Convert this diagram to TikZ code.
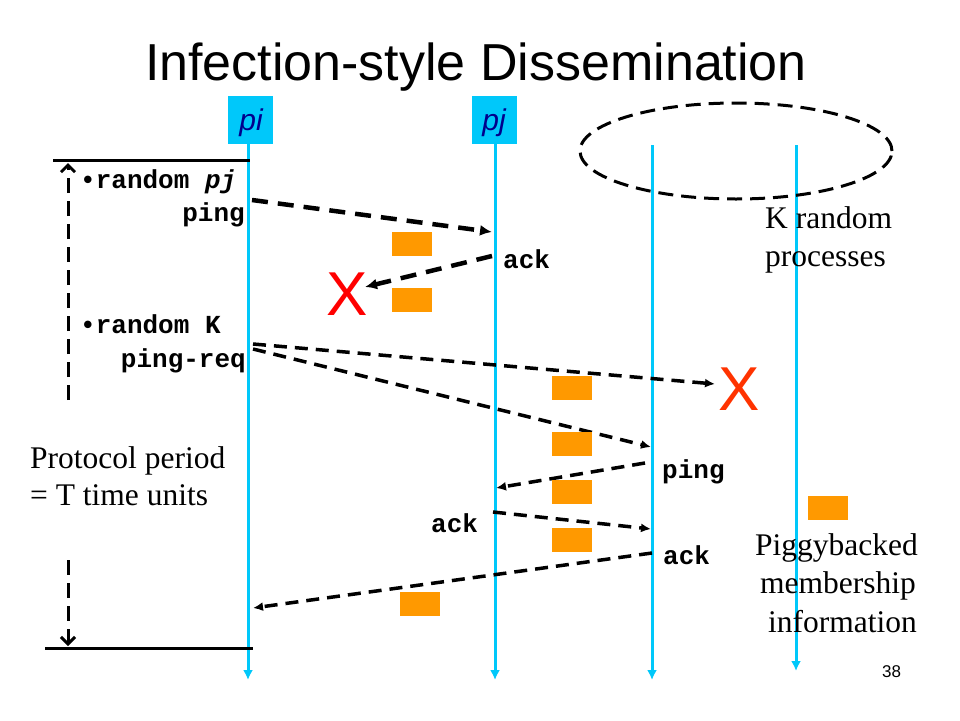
\documentclass[tikz,border=0pt]{standalone}
\usepackage{fontspec}
\setmainfont{Liberation Serif}
\setsansfont{Liberation Sans}
\setmonofont{Liberation Mono}
\usetikzlibrary{arrows.meta}
\definecolor{life}{RGB}{0,200,250}
\definecolor{piggyc}{RGB}{255,153,0}
\definecolor{navyc}{RGB}{0,0,140}
\definecolor{xred}{RGB}{255,0,0}
\definecolor{xorange}{RGB}{255,51,0}
\begin{document}
\begin{tikzpicture}[x=1pt,y=-1pt,
  lifeline/.style={draw=life,line width=3pt,-{Latex[length=10pt,width=10pt]}},
  procbox/.style={fill=life,minimum width=45pt,minimum height=48pt,inner sep=0pt},
  proclabel/.style={inner sep=0pt,anchor=base,font=\fontsize{30}{32}\selectfont\sffamily\itshape,text=navyc},
  msgthick/.style={line width=4.5pt,dash pattern=on 16pt off 10pt,-{Latex[length=12pt,width=11pt]}},
  msgthin/.style={line width=3.5pt,dash pattern=on 13pt off 8pt,-{Latex[length=10pt,width=9pt]}},
  codetxt/.style={inner sep=0pt,font=\fontsize{26}{28}\selectfont\ttfamily\bfseries},
  seriftxt/.style={inner sep=0pt,font=\fontsize{31.5}{36}\selectfont\rmfamily,anchor=base west},
  piggybox/.style={fill=piggyc,minimum width=40pt,minimum height=24pt,inner sep=0pt},
  lostmark/.style={inner sep=0pt,font=\fontsize{62}{64}\selectfont\sffamily,anchor=base},
  periodarrow/.style={line width=3pt,dash pattern=on 15pt off 8pt,-{Straight Barb[length=7pt,width=14pt,line width=3pt]}},
  bar/.style={line width=3pt}
]
\useasboundingbox (0,0) rectangle (960,720);

% title
\node[inner sep=0pt,anchor=base,font=\fontsize{52}{60}\selectfont\sffamily] (title) at (476,80) {Infection-style Dissemination};

% process boxes
\node[procbox] (pi) at (250.5,120) {};
\node[procbox] (pj) at (494,120) {};
\node[proclabel] (pilabel) at (251,130) {pi};
\node[proclabel] (pjlabel) at (494,130) {pj};

% lifelines
\coordinate (pitop) at (248,144);  \coordinate (piend) at (248,680);
\coordinate (pjtop) at (495,144);  \coordinate (pjend) at (495,680);
\coordinate (pktop) at (652,145);  \coordinate (pkend) at (652,680);
\coordinate (pltop) at (796,145);  \coordinate (plend) at (796,671);
\draw[lifeline] (pitop) -- (piend);
\draw[lifeline] (pjtop) -- (pjend);
\draw[lifeline] (pktop) -- (pkend);
\draw[lifeline] (pltop) -- (plend);

% K random processes ellipse
\draw[line width=3pt,dash pattern=on 15pt off 8pt] (736,151) ellipse [x radius=156pt,y radius=48pt];

% protocol period bars and arrows
\coordinate (bartopl) at (53,160);  \coordinate (bartopr) at (250,160);
\coordinate (barbotl) at (45,648);  \coordinate (barbotr) at (253,648);
\draw[bar] (bartopl) -- (bartopr);
\draw[bar] (barbotl) -- (barbotr);
\coordinate (perup0) at (68,400);  \coordinate (perup1) at (68,163);
\coordinate (perdn0) at (68,560);  \coordinate (perdn1) at (68,646);
\draw[periodarrow] (perup0) -- (perup1);
\draw[periodarrow] (perdn0) -- (perdn1);

% messages
\coordinate (m1a) at (252,200); \coordinate (m1b) at (492,232);
\coordinate (m2a) at (492,256); \coordinate (m2b) at (365,287);
\coordinate (m3a) at (253,344); \coordinate (m3b) at (715,384);
\coordinate (m4a) at (253,349); \coordinate (m4b) at (651,447);
\coordinate (m5a) at (645,463); \coordinate (m5b) at (496,488);
\coordinate (m6a) at (493,512); \coordinate (m6b) at (651,529);
\coordinate (m7a) at (652,553); \coordinate (m7b) at (253,608);
\draw[msgthick] (m1a) -- (m1b);
\draw[msgthick] (m2a) -- (m2b);
\draw[msgthin] (m3a) -- (m3b);
\draw[msgthin] (m4a) -- (m4b);
\draw[msgthin] (m5a) -- (m5b);
\draw[msgthin] (m6a) -- (m6b);
\draw[msgthin] (m7a) -- (m7b);

% piggybacked info
\node[piggybox] (g1) at (412,244) {};
\node[piggybox] (g2) at (412,300) {};
\node[piggybox] (g3) at (572,388) {};
\node[piggybox] (g4) at (572,444) {};
\node[piggybox] (g5) at (572,492) {};
\node[piggybox] (g6) at (572,540) {};
\node[piggybox] (g7) at (420,604) {};
\node[piggybox] (g8) at (828,508) {};

% lost messages
\node[lostmark,text=xred] (x1) at (347,315) {X};
\node[lostmark,text=xorange] (x2) at (739,410) {X};

% code labels
\node[codetxt,anchor=base west] (t1) at (80,188) {•random \textit{pj}};
\node[codetxt,anchor=base east] (t2) at (245,221) {ping};
\node[codetxt,anchor=base west] (t3) at (80,333) {•random K};
\node[codetxt,anchor=base east] (t4) at (246,367) {ping-req};
\node[codetxt,anchor=base west] (t5) at (503,268) {ack};
\node[codetxt,anchor=base west] (t6) at (662,478) {ping};
\node[codetxt,anchor=base west] (t7) at (431,532) {ack};
\node[codetxt,anchor=base west] (t8) at (663,564) {ack};

% serif labels
\node[seriftxt] (k1) at (765,228) {K random};
\node[seriftxt] (k2) at (765,266) {processes};
\node[seriftxt] (p1) at (30,468) {Protocol period};
\node[seriftxt] (p2) at (30,505) {= T time units};
\node[seriftxt] (q1) at (755,555) {Piggybacked};
\node[seriftxt] (q2) at (760,593) {membership};
\node[seriftxt] (q3) at (768,632) {information};

% slide number
\node[inner sep=0pt,anchor=base west,font=\fontsize{17}{20}\selectfont\sffamily] (num) at (882,677) {38};
\end{tikzpicture}
\end{document}
